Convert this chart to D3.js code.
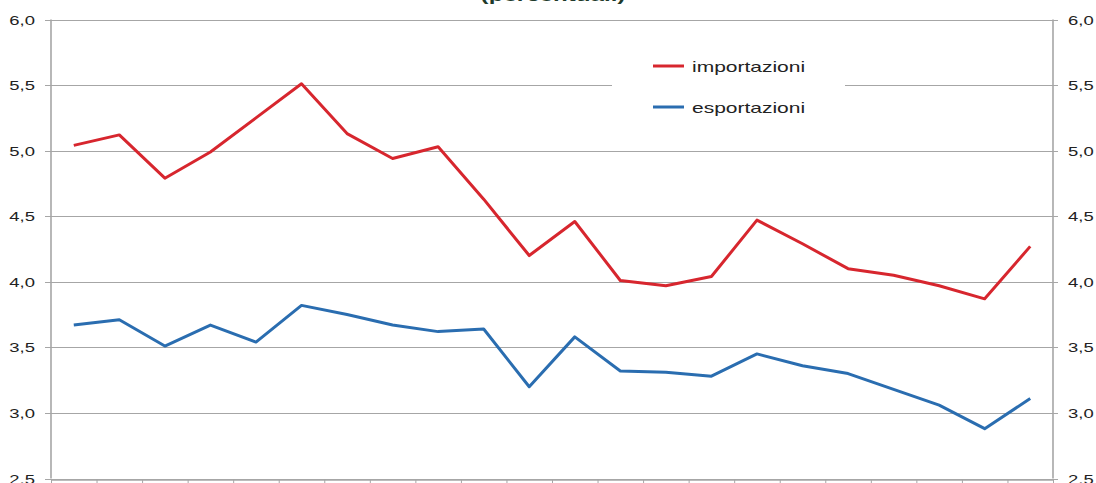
<!DOCTYPE html>
<html>
<head>
<meta charset="utf-8">
<script src="https://d3js.org/d3.v7.min.js"></script>
<style>
  html, body { margin: 0; padding: 0; background: #fff; }
  svg { display: block; font-family: "Liberation Sans", Arial, sans-serif; }
</style>
</head>
<body>
<div id="chart"></div>
<script>
// periods on the x axis (no labels shown in the source)
const periods = [0, 1, 2, 3, 4, 5, 6, 7, 8, 9, 10, 11, 12, 13, 14, 15, 16, 17, 18, 19, 20, 21];

const importazioni = [5.04, 5.12, 4.79, 4.99, 5.25, 5.51, 5.13, 4.94, 5.03, 4.63, 4.20,
    4.46, 4.01, 3.97, 4.04, 4.47, 4.29, 4.10, 4.05, 3.97, 3.87, 4.27];
const esportazioni = [3.67, 3.71, 3.51, 3.67, 3.54, 3.82, 3.75, 3.67, 3.62, 3.64, 3.20,
    3.58, 3.32, 3.31, 3.28, 3.45, 3.36, 3.30, 3.18, 3.06, 2.88, 3.11];

const yTicks = [2.5, 3.0, 3.5, 4.0, 4.5, 5.0, 5.5, 6.0];

const series = [
    { name: 'importazioni', values: importazioni, color: '#d7262e' },
    { name: 'esportazioni', values: esportazioni, color: '#2a6db0' }
];

const width = 1096, height = 483;
const margin = { top: 19.5, right: 43, bottom: 4.5, left: 51 };
const stretch = 1.42; // text in the source is horizontally widened
const fmt = d => d3.format('.1f')(d).replace('.', ',');

const svg = d3.select('#chart')
    .append('svg')
    .attr('width', width)
    .attr('height', height);

const x = d3.scaleLinear()
    .domain([0, periods.length])
    .range([margin.left, width - margin.right]);

const y = d3.scaleLinear()
    .domain([2.5, 6])
    .range([height - margin.bottom, margin.top]);

// Gridlines
svg.append('g')
    .selectAll('line')
    .data(yTicks)
    .enter()
    .append('line')
    .attr('x1', x(0) - 6)
    .attr('x2', x(periods.length) + 5)
    .attr('y1', d => Math.round(y(d)) + 0.5)
    .attr('y2', d => Math.round(y(d)) + 0.5)
    .attr('stroke', '#a6a6a6')
    .attr('stroke-width', 1.2);

// Axes lines
svg.append('line')
    .attr('x1', x(0)).attr('x2', x(0))
    .attr('y1', y(6)).attr('y2', y(2.5))
    .attr('stroke', '#a6a6a6').attr('stroke-width', 1.6);
svg.append('line')
    .attr('x1', x(periods.length)).attr('x2', x(periods.length))
    .attr('y1', y(6)).attr('y2', y(2.5))
    .attr('stroke', '#a6a6a6').attr('stroke-width', 1.6);

// Bottom axis: ticks at period boundaries
svg.append('g')
    .attr('transform', `translate(0,${Math.round(y(2.5)) + 0.5})`)
    .call(d3.axisBottom(x)
        .tickValues(d3.range(0, periods.length + 1))
        .tickFormat('')
        .tickSizeInner(6)
        .tickSizeOuter(0))
    .call(g => g.select('.domain').attr('stroke', '#a6a6a6').attr('stroke-width', 1.6))
    .call(g => g.selectAll('.tick line').attr('stroke', '#a6a6a6'));

// Y labels, left and right
const drawLabels = (xPos, anchor) => {
    svg.append('g')
        .selectAll('g')
        .data(yTicks)
        .enter()
        .append('g')
        .attr('transform', d => `translate(${xPos},${y(d) + 5}) scale(${stretch},1)`)
        .append('text')
        .attr('text-anchor', anchor)
        .attr('font-size', '13px')
        .attr('fill', '#222')
        .text(fmt);
};
drawLabels(35, 'end');
drawLabels(1068, 'start');

// Lines
const line = d3.line()
    .x((d, i) => x(i + 0.5))
    .y(d => y(d));

svg.selectAll('.series')
    .data(series)
    .enter()
    .append('path')
    .attr('class', 'series')
    .attr('d', d => line(d.values))
    .attr('fill', 'none')
    .attr('stroke', d => d.color)
    .attr('stroke-width', 3)
    .attr('stroke-linejoin', 'round');

// Legend
const legend = svg.append('g');
legend.append('rect')
    .attr('x', 612).attr('y', 46)
    .attr('width', 233).attr('height', 82)
    .attr('fill', '#fff');

const items = legend.selectAll('.item')
    .data(series)
    .enter()
    .append('g')
    .attr('class', 'item')
    .attr('transform', (d, i) => `translate(653,${66 + i * 41})`);

items.append('line')
    .attr('x1', 0).attr('x2', 31)
    .attr('y1', 0).attr('y2', 0)
    .attr('stroke', d => d.color)
    .attr('stroke-width', 3);

items.append('g')
    .attr('transform', `translate(39,5.5) scale(1.5,1)`)
    .append('text')
    .attr('font-size', '14px')
    .attr('fill', '#222')
    .text(d => d.name);

// Title, cut off at the top edge
svg.append('g')
    .attr('transform', `translate(553,1) scale(${stretch},1)`)
    .append('text')
    .attr('text-anchor', 'middle')
    .attr('font-size', '17px')
    .attr('font-weight', 'bold')
    .attr('fill', '#1e3a2a')
    .text('(percentuali)');
</script>
</body>
</html>
